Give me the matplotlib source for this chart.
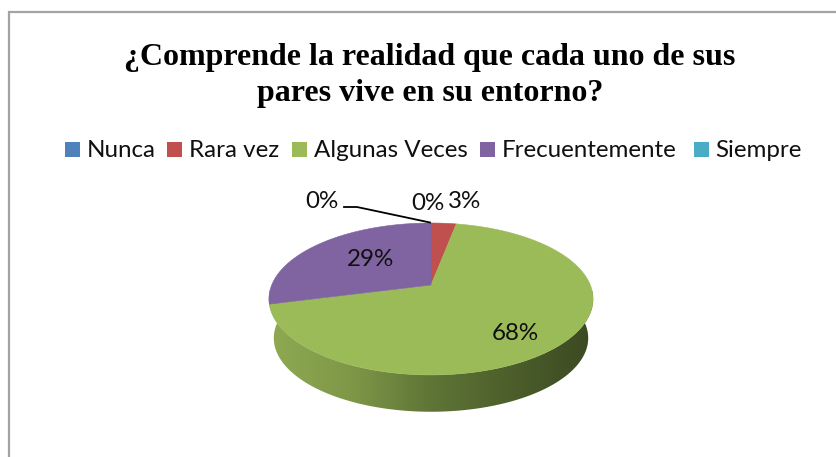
import numpy as np
import matplotlib
matplotlib.use("Agg")
import matplotlib.pyplot as plt
from matplotlib.patches import Polygon, Rectangle
from matplotlib.colors import LinearSegmentedColormap

categories = ["Nunca", "Rara vez", "Algunas Veces", "Frecuentemente", "Siempre"]
values = [0, 3, 68, 29, 0]
labels = ["0%", "3%", "68%", "29%", "0%"]
colors = ["#4F81BD", "#C0504D", "#9BBB59", "#8064A2", "#4BACC6"]
title_lines = ["¿Comprende la realidad que cada uno de sus", "pares vive en su entorno?"]

W, H = 837, 457
fig = plt.figure(figsize=(W / 100, H / 100), dpi=100, facecolor="white")
ax = fig.add_axes([0, 0, 1, 1])
ax.set_xlim(0, W)
ax.set_ylim(H, 0)
ax.axis("off")

SANS = "Lato"
SERIF = "Liberation Serif"
FS = 17.4

# chart frame
ax.plot([9.5, 9.5, W + 5], [H + 5, 12, 12], color="#a3a3a3", lw=1.6, solid_joinstyle="miter")

# title
ax.text(430, 58, title_lines[0], family=SERIF, weight="bold", fontsize=23, ha="center", va="center")
ax.text(430, 93, title_lines[1], family=SERIF, weight="bold", fontsize=23, ha="center", va="center")

# legend
swatch_x = [65, 167, 292.5, 480.5, 694]
text_x = [86.5, 189.5, 314, 502, 715]
for name, col, sx, tx in zip(categories, colors, swatch_x, text_x):
    ax.add_patch(Rectangle((sx, 142), 15, 15, fc=col, ec="none"))
    ax.text(tx, 150.5, name, family=SANS, fontsize=FS, ha="left", va="center", color="#101010")

# perspective pie
CX, CY = 431, 285
RX, RY, K = 159.3, 73.4, 0.184


def project(theta, scale=1.0, dy=0.0):
    u, v = np.sin(theta), np.cos(theta)
    w = 1 + K * v
    x = CX + scale * RX * u / w
    y = CY + dy + scale * RY * (-v) / w
    return x, y


# side wall with horizontal gradient
t = np.linspace(np.radians(80), np.radians(280), 240)
ux, uy = project(t)
lx, ly = project(t, scale=0.97, dy=39.5)
wall = Polygon(np.r_[np.c_[ux, uy], np.c_[lx, ly][::-1]], closed=True, fc="none", ec="none")
ax.add_patch(wall)
cmap = LinearSegmentedColormap.from_list(
    "side", ["#8FAA52", "#7E9848", "#5F7536", "#4C5E2B", "#3B4921"]
)
grad = np.linspace(0, 1, 256).reshape(1, -1)
im = ax.imshow(grad, extent=(268, 594, 420, 290), cmap=cmap, aspect="auto", zorder=1)
im.set_clip_path(wall)
ax.set_xlim(0, W)
ax.set_ylim(H, 0)

# top face, clockwise from twelve o'clock
start = 0.0
total = sum(values)
for val, col in zip(values, colors):
    sweep = 2 * np.pi * val / total
    if val > 0:
        t = np.linspace(start, start + sweep, 200)
        x, y = project(t)
        ax.add_patch(Polygon(np.r_[[[CX, CY]], np.c_[x, y]], closed=True, fc=col, ec=col, lw=0.4, zorder=2))
    start += sweep

# data labels
label_pos = [(428, 203), (465, 201), (515, 334), (371, 259), (322, 202)]
for lab, (x, y) in zip(labels, label_pos):
    ax.text(x, y, lab, family=SANS, fontsize=FS, ha="center", va="center", color="#101010", zorder=4)

# leader line for the last zero label
ax.plot([344, 357, 430], [207, 207, 222.5], color="black", lw=1.3, zorder=3)

fig.savefig("out.png", dpi=100, facecolor="white")
